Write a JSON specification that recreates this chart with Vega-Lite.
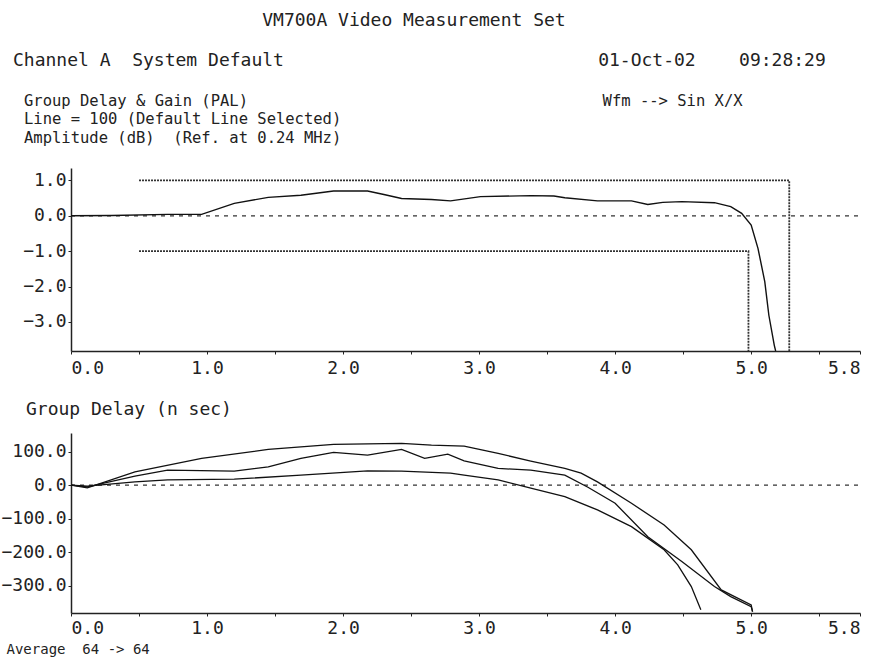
{
  "$schema": "https://vega.github.io/schema/vega-lite/v6.json",
  "background": "white",
  "padding": {"left": 0, "top": 11, "right": 20, "bottom": 4},
  "title": {
    "text": [
      "\u200b\u00a0\u00a0\u00a0\u00a0\u00a0\u00a0\u00a0\u00a0\u00a0\u00a0\u00a0\u00a0\u00a0\u00a0\u00a0\u00a0\u00a0\u00a0\u00a0\u00a0\u00a0\u00a0\u00a0VM700A Video Measurement Set",
      "Channel A\u00a0\u00a0System Default\u00a0\u00a0\u00a0\u00a0\u00a0\u00a0\u00a0\u00a0\u00a0\u00a0\u00a0\u00a0\u00a0\u00a0\u00a0\u00a0\u00a0\u00a0\u00a0\u00a0\u00a0\u00a0\u00a0\u00a0\u00a0\u00a0\u00a0\u00a0\u00a001-Oct-02\u00a0\u00a0\u00a0\u00a009:28:29"
    ],
    "anchor": "start",
    "frame": "bounds",
    "dx": 12,
    "font": "DejaVu Sans Mono",
    "fontSize": 18,
    "fontWeight": "normal",
    "lineHeight": 40,
    "color": "#222",
    "offset": 24
  },
  "datasets": {
    "amp": [
      {"f": 0, "v": 0}, {"f": 0.3, "v": 0.01}, {"f": 0.71, "v": 0.04}, {"f": 0.96, "v": 0.04},
      {"f": 1.2, "v": 0.35}, {"f": 1.45, "v": 0.52}, {"f": 1.69, "v": 0.58}, {"f": 1.93, "v": 0.70},
      {"f": 2.18, "v": 0.70}, {"f": 2.3, "v": 0.6}, {"f": 2.43, "v": 0.49}, {"f": 2.65, "v": 0.46},
      {"f": 2.79, "v": 0.42}, {"f": 3.01, "v": 0.54}, {"f": 3.38, "v": 0.57}, {"f": 3.55, "v": 0.56},
      {"f": 3.63, "v": 0.51}, {"f": 3.87, "v": 0.42}, {"f": 4.12, "v": 0.42}, {"f": 4.24, "v": 0.32},
      {"f": 4.35, "v": 0.38}, {"f": 4.49, "v": 0.40}, {"f": 4.73, "v": 0.37}, {"f": 4.85, "v": 0.26},
      {"f": 4.93, "v": 0.07}, {"f": 5.0, "v": -0.26}, {"f": 5.05, "v": -0.92}, {"f": 5.1, "v": -1.86},
      {"f": 5.13, "v": -2.81}, {"f": 5.17, "v": -3.66}, {"f": 5.18, "v": -3.82}
    ],
    "limits": [
      {"seg": "upper", "i": 0, "f": 0.5, "v": 1.0},
      {"seg": "upper", "i": 1, "f": 5.28, "v": 1.0},
      {"seg": "upper", "i": 2, "f": 5.28, "v": -3.82},
      {"seg": "lower", "i": 0, "f": 0.5, "v": -1.0},
      {"seg": "lower", "i": 1, "f": 4.98, "v": -1.0},
      {"seg": "lower", "i": 2, "f": 4.98, "v": -3.82}
    ],
    "zero": [{"f": 0, "v": 0}, {"f": 5.8, "v": 0}],
    "gd": [
      {"trace": "max", "f": 0, "v": 0}, {"trace": "max", "f": 0.12, "v": -8}, {"trace": "max", "f": 0.47, "v": 40},
      {"trace": "max", "f": 0.96, "v": 80}, {"trace": "max", "f": 1.45, "v": 107}, {"trace": "max", "f": 1.93, "v": 122},
      {"trace": "max", "f": 2.43, "v": 125}, {"trace": "max", "f": 2.65, "v": 120}, {"trace": "max", "f": 2.89, "v": 117},
      {"trace": "max", "f": 3.14, "v": 95}, {"trace": "max", "f": 3.38, "v": 72}, {"trace": "max", "f": 3.63, "v": 50},
      {"trace": "max", "f": 3.75, "v": 36}, {"trace": "max", "f": 3.87, "v": 10}, {"trace": "max", "f": 4.12, "v": -54},
      {"trace": "max", "f": 4.36, "v": -119}, {"trace": "max", "f": 4.56, "v": -193}, {"trace": "max", "f": 4.78, "v": -313},
      {"trace": "max", "f": 5.0, "v": -358}, {"trace": "max", "f": 5.01, "v": -378},
      {"trace": "avg", "f": 0, "v": 0}, {"trace": "avg", "f": 0.12, "v": -5}, {"trace": "avg", "f": 0.47, "v": 27},
      {"trace": "avg", "f": 0.71, "v": 45}, {"trace": "avg", "f": 1.2, "v": 42}, {"trace": "avg", "f": 1.45, "v": 55},
      {"trace": "avg", "f": 1.69, "v": 80}, {"trace": "avg", "f": 1.93, "v": 98}, {"trace": "avg", "f": 2.18, "v": 90},
      {"trace": "avg", "f": 2.43, "v": 107}, {"trace": "avg", "f": 2.6, "v": 80}, {"trace": "avg", "f": 2.77, "v": 93},
      {"trace": "avg", "f": 2.89, "v": 73}, {"trace": "avg", "f": 3.14, "v": 50}, {"trace": "avg", "f": 3.38, "v": 45},
      {"trace": "avg", "f": 3.63, "v": 30}, {"trace": "avg", "f": 3.8, "v": -6}, {"trace": "avg", "f": 4.0, "v": -54},
      {"trace": "avg", "f": 4.24, "v": -154}, {"trace": "avg", "f": 4.49, "v": -228}, {"trace": "avg", "f": 4.73, "v": -303},
      {"trace": "avg", "f": 4.85, "v": -333}, {"trace": "avg", "f": 5.0, "v": -363}, {"trace": "avg", "f": 5.01, "v": -378},
      {"trace": "min", "f": 0, "v": 0}, {"trace": "min", "f": 0.12, "v": -3}, {"trace": "min", "f": 0.47, "v": 10},
      {"trace": "min", "f": 0.71, "v": 16}, {"trace": "min", "f": 1.2, "v": 18}, {"trace": "min", "f": 1.69, "v": 30},
      {"trace": "min", "f": 2.18, "v": 43}, {"trace": "min", "f": 2.43, "v": 42}, {"trace": "min", "f": 2.79, "v": 36},
      {"trace": "min", "f": 2.89, "v": 30}, {"trace": "min", "f": 3.14, "v": 16}, {"trace": "min", "f": 3.38, "v": -9},
      {"trace": "min", "f": 3.63, "v": -34}, {"trace": "min", "f": 3.87, "v": -74}, {"trace": "min", "f": 4.12, "v": -124},
      {"trace": "min", "f": 4.36, "v": -193}, {"trace": "min", "f": 4.46, "v": -238}, {"trace": "min", "f": 4.56, "v": -303},
      {"trace": "min", "f": 4.63, "v": -372}
    ]
  },
  "config": {
    "view": {"stroke": null},
    "axis": {
      "grid": false,
      "domainColor": "#222",
      "domainWidth": 1.5,
      "tickColor": "#222",
      "tickSize": 3,
      "labelFont": "DejaVu Sans Mono",
      "labelFontSize": 18,
      "labelColor": "#222",
      "labelPadding": 2,
      "title": null
    },
    "axisX": {"labelPadding": 5}
  },
  "spacing": 24,
  "vconcat": [
    {
      "width": 789,
      "height": 183,
      "title": {
        "text": [
          "Group Delay & Gain (PAL)\u00a0\u00a0\u00a0\u00a0\u00a0\u00a0\u00a0\u00a0\u00a0\u00a0\u00a0\u00a0\u00a0\u00a0\u00a0\u00a0\u00a0\u00a0\u00a0\u00a0\u00a0\u00a0\u00a0\u00a0\u00a0\u00a0\u00a0\u00a0\u00a0\u00a0\u00a0\u00a0\u00a0\u00a0\u00a0\u00a0\u00a0\u00a0Wfm --> Sin X/X",
          "Line = 100 (Default Line Selected)",
          "Amplitude (dB)\u00a0\u00a0(Ref. at 0.24 MHz)"
        ],
        "anchor": "start",
        "frame": "group",
        "dx": -47,
        "font": "DejaVu Sans Mono",
        "fontSize": 15.5,
        "fontWeight": "normal",
        "lineHeight": 18.5,
        "color": "#222",
        "offset": 22
      },
      "layer": [
        {
          "data": {"name": "zero"},
          "mark": {"type": "line", "color": "#333", "strokeWidth": 1.3, "strokeDash": [4, 5]},
          "encoding": {
            "x": {"field": "f", "type": "quantitative", "scale": {"domain": [0, 5.8], "nice": false},
              "axis": {"values": [0, 0.5, 1, 1.5, 2, 2.5, 3, 3.5, 4, 4.5, 5, 5.5, 5.8],
                "labelExpr": "(datum.value % 1 == 0 || datum.value == 5.8) ? format(datum.value, '.1f') : ''"}},
            "y": {"field": "v", "type": "quantitative", "scale": {"domain": [-3.82, 1.35], "nice": false, "zero": false},
              "axis": {"values": [-3, -2, -1, 0, 1], "format": ".1f"}}
          }
        },
        {
          "data": {"name": "limits"},
          "mark": {"type": "line", "color": "#333", "strokeWidth": 1.8, "strokeDash": [2, 1]},
          "encoding": {
            "x": {"field": "f", "type": "quantitative"},
            "y": {"field": "v", "type": "quantitative"},
            "detail": {"field": "seg"},
            "order": {"field": "i"}
          }
        },
        {
          "data": {"name": "amp"},
          "mark": {"type": "line", "color": "#111", "strokeWidth": 1.4, "clip": true},
          "encoding": {
            "x": {"field": "f", "type": "quantitative"},
            "y": {"field": "v", "type": "quantitative"}
          }
        }
      ]
    },
    {
      "width": 789,
      "height": 180,
      "title": {
        "text": "Group Delay (n sec)",
        "anchor": "start",
        "frame": "group",
        "dx": -45,
        "font": "DejaVu Sans Mono",
        "fontSize": 18,
        "fontWeight": "normal",
        "color": "#222",
        "offset": 14
      },
      "layer": [
        {
          "data": {"name": "zero"},
          "mark": {"type": "line", "color": "#333", "strokeWidth": 1.3, "strokeDash": [4, 5]},
          "encoding": {
            "x": {"field": "f", "type": "quantitative", "scale": {"domain": [0, 5.8], "nice": false},
              "axis": {"values": [0, 0.5, 1, 1.5, 2, 2.5, 3, 3.5, 4, 4.5, 5, 5.5, 5.8],
                "labelExpr": "(datum.value % 1 == 0 || datum.value == 5.8) ? format(datum.value, '.1f') : ''",
                "labelPadding": 3,
                "title": "Average\u00a0\u00a064 -> 64",
                "titleFont": "DejaVu Sans Mono",
                "titleFontSize": 14,
                "titleFontWeight": "normal",
                "titleColor": "#222",
                "titleAnchor": "start",
                "titleAlign": "left",
                "titleX": -65,
                "titlePadding": 5}},
            "y": {"field": "v", "type": "quantitative", "scale": {"domain": [-382, 156], "nice": false, "zero": false},
              "axis": {"values": [-300, -200, -100, 0, 100], "format": ".1f"}}
          }
        },
        {
          "data": {"name": "gd"},
          "mark": {"type": "line", "color": "#111", "strokeWidth": 1.3, "clip": true},
          "encoding": {
            "x": {"field": "f", "type": "quantitative"},
            "y": {"field": "v", "type": "quantitative"},
            "detail": {"field": "trace"}
          }
        }
      ]
    }
  ]
}
